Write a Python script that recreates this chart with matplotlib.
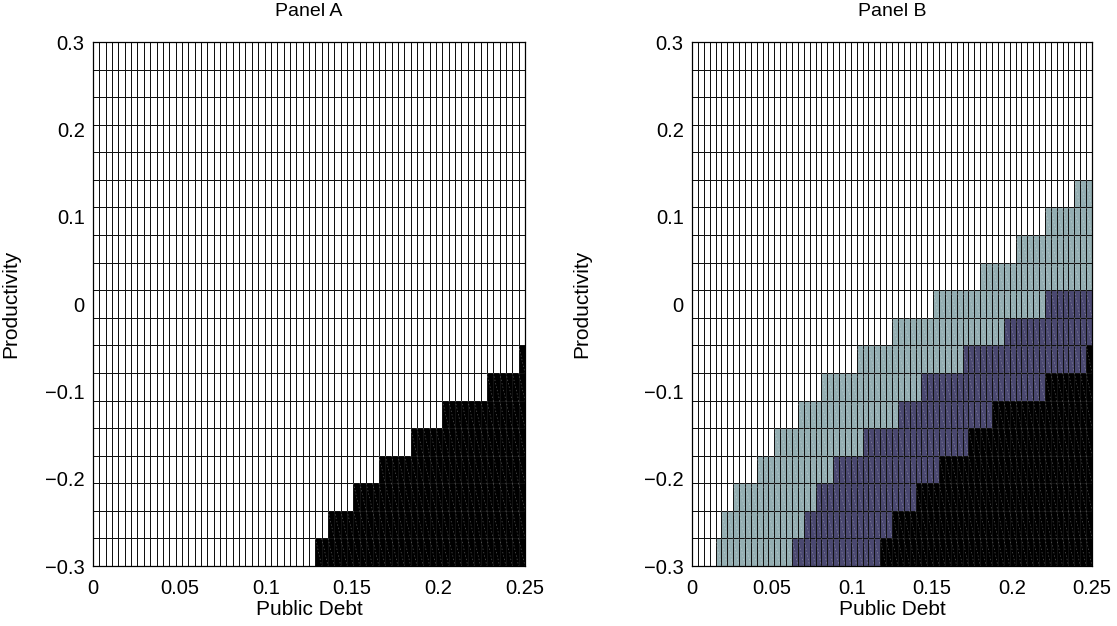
import numpy as np
import matplotlib
matplotlib.use("Agg")
import matplotlib.pyplot as plt
from matplotlib.colors import ListedColormap, BoundaryNorm
from matplotlib.collections import LineCollection

plt.rcParams['font.family'] = ['Liberation Sans', 'DejaVu Sans']

# State grid: public debt (columns) and productivity (rows)
n_debt = 68
n_prod = 19
debt_edges = np.linspace(0.0, 0.25, n_debt + 1)
prod_edges = np.linspace(-0.3, 0.3, n_prod + 1)

# Panel A: debt level (per productivity row, bottom to top) above which the
# economy is in the black region; None = never
panel_a_black = [0.127, 0.1346, 0.1493, 0.164, 0.1823, 0.2007, 0.2264, 0.246,
                 None, None, None, None, None, None, None, None, None, None, None]

# Panel B: thresholds for the three regions (light, purple, black)
panel_b_light = [0.0154, 0.0192, 0.0275, 0.0394, 0.0504, 0.0664, 0.0806, 0.1025,
                 0.1256, 0.1519, 0.1796, 0.2029, 0.2217, 0.2379,
                 None, None, None, None, None]
panel_b_purple = [0.0623, 0.0706, 0.0779, 0.0894, 0.1054, 0.127, 0.1442, 0.1675,
                  0.1956, 0.2217, None, None, None, None,
                  None, None, None, None, None]
panel_b_black = [0.1164, 0.124, 0.14, 0.155, 0.172, 0.1875, 0.2217, 0.2456,
                 None, None, None, None, None, None,
                 None, None, None, None, None]

region_colors = ['#ffffff', '#94aeb2', '#4a4870', '#000000']

x_ticks = [0, 0.05, 0.1, 0.15, 0.2, 0.25]
x_ticklabels = ['0', '0.05', '0.1', '0.15', '0.2', '0.25']
y_ticks = [-0.3, -0.2, -0.1, 0, 0.1, 0.2, 0.3]
y_ticklabels = ['\u22120.3', '\u22120.2', '\u22120.1', '0', '0.1', '0.2', '0.3']


def region_matrix(threshold_lists):
    centers = 0.5 * (debt_edges[:-1] + debt_edges[1:])
    z = np.zeros((n_prod, n_debt))
    for level, thresholds in enumerate(threshold_lists, start=1):
        for i, t in enumerate(thresholds):
            if t is not None:
                z[i, centers >= t] = level
    return z


def cell_seams(z):
    # faint diagonal seams where each filled cell is split into two triangles
    segs = []
    for i in range(n_prod):
        for j in range(n_debt):
            if z[i, j] > 0:
                segs.append([(debt_edges[j], prod_edges[i + 1]),
                             (debt_edges[j + 1], prod_edges[i])])
    return segs


cmap = ListedColormap(region_colors)
norm = BoundaryNorm([-0.5, 0.5, 1.5, 2.5, 3.5], cmap.N)

fig = plt.figure(figsize=(11.17, 6.26), dpi=100)
ax_a = fig.add_axes([93 / 1117, 1 - 566 / 626, 432 / 1117, 524 / 626])
ax_b = fig.add_axes([692 / 1117, 1 - 566 / 626, 400 / 1117, 524 / 626])

z_a = region_matrix([[None] * n_prod, [None] * n_prod, panel_a_black])
z_b = region_matrix([panel_b_light, panel_b_purple, panel_b_black])

for ax, z, title, ylab_x in [(ax_a, z_a, 'Panel A', -0.168),
                             (ax_b, z_b, 'Panel B', -0.252)]:
    ax.pcolormesh(debt_edges, prod_edges, z, cmap=cmap, norm=norm,
                  edgecolors='#111111', linewidth=0.6)
    ax.add_collection(LineCollection(cell_seams(z), colors='white', alpha=0.35,
                                     linewidths=0.5, linestyles=(0, (2, 3))))
    ax.set_xlim(0, 0.25)
    ax.set_ylim(-0.3, 0.3)
    ax.set_xticks(x_ticks)
    ax.set_xticklabels(x_ticklabels)
    ax.set_yticks(y_ticks)
    ax.set_yticklabels(y_ticklabels)
    ax.tick_params(axis='x', direction='in', length=0, labelsize=14.5, pad=9)
    ax.tick_params(axis='y', direction='in', length=0, labelsize=14.5, pad=6)
    ax.set_xlabel('Public Debt', fontsize=15, labelpad=2)
    ax.set_ylabel('Productivity', fontsize=15)
    ax.yaxis.set_label_coords(ylab_x, 0.5)
    ax.set_title(title, fontsize=14, pad=19)
    for s in ax.spines.values():
        s.set_linewidth(0.9)

fig.savefig('out.png', dpi=100)
